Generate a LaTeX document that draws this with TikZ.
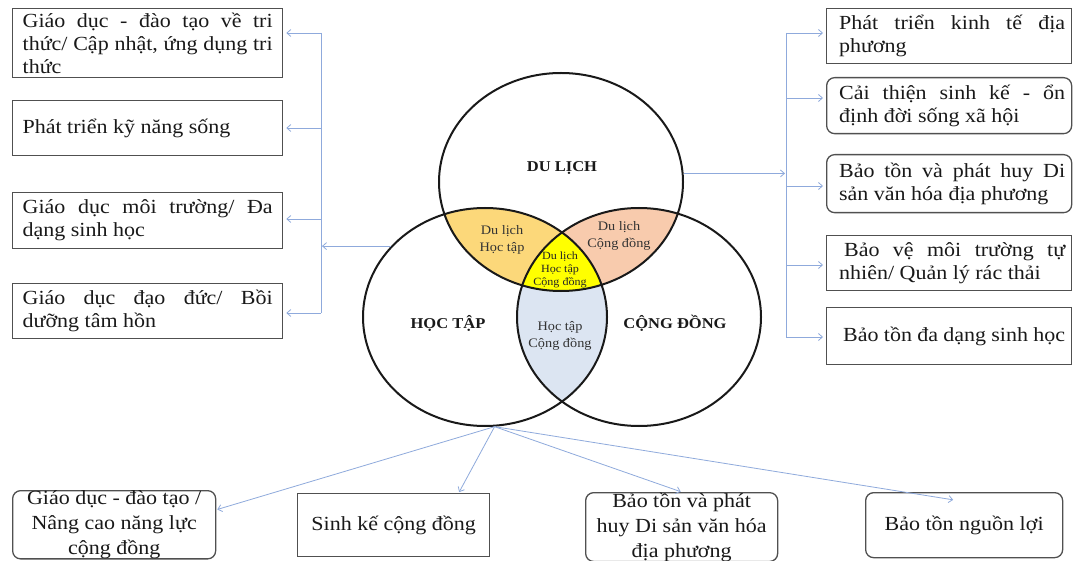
\documentclass[tikz,border=0pt]{standalone}
\usepackage{fontspec}
\setmainfont{Liberation Serif}[FakeStretch=1.1]
\usetikzlibrary{arrows.meta,shapes.geometric}
\definecolor{conncol}{HTML}{8FAADC}
\definecolor{boxgray}{HTML}{505050}
\definecolor{goldfill}{HTML}{FCD87A}
\definecolor{peachfill}{HTML}{F8CBAD}
\definecolor{palebluefill}{HTML}{DCE5F2}
\definecolor{centerfill}{HTML}{FFFF00}
\newcommand\jline[2]{\makebox[#1][s]{#2}}
\tikzset{
  box/.style={draw=boxgray, line width=1.3pt, inner sep=0pt, anchor=north west, text=black!90,
    font=\fontsize{20}{23}\selectfont},
  rbox/.style={box, rounded corners=8pt},
  bbox/.style={box, align=center, font=\fontsize{20}{25}\selectfont},
  link/.style={draw=conncol, line width=0.8pt},
  arr/.style={link, -{Straight Barb[length=4pt,width=7pt]}, shorten >=3pt},
  venn/.style={ellipse, draw=black!90, line width=2pt, minimum width=244pt, minimum height=218pt, inner sep=0pt},
  bigl/.style={font=\fontsize{15}{18}\selectfont\bfseries, text=black!90},
  smalll/.style={font=\fontsize{13}{17}\selectfont, align=center, text=black!80},
  tinyl/.style={font=\fontsize{11}{13}\selectfont, align=center, text=black!85},
}
\begin{document}
\begin{tikzpicture}[x=1pt,y=-1pt]
\useasboundingbox (0,0) rectangle (1073,561);
\fill[white] (0,0) rectangle (1073,561);

% ---- Venn fills ----
\begin{scope}
  \clip (561,182) ellipse [x radius=122pt, y radius=109pt];
  \fill[goldfill] (485,317) ellipse [x radius=122pt, y radius=109pt];
  \fill[peachfill] (639,317) ellipse [x radius=122pt, y radius=109pt];
\end{scope}
\begin{scope}
  \clip (485,317) ellipse [x radius=122pt, y radius=109pt];
  \fill[palebluefill] (639,317) ellipse [x radius=122pt, y radius=109pt];
\end{scope}
\begin{scope}
  \clip (561,182) ellipse [x radius=122pt, y radius=109pt];
  \clip (485,317) ellipse [x radius=122pt, y radius=109pt];
  \fill[centerfill] (639,317) ellipse [x radius=122pt, y radius=109pt];
\end{scope}

% ---- Venn outlines ----
\node[venn] (dl) at (561,182) {};
\node[venn] (ht) at (485,317) {};
\node[venn] (cd) at (639,317) {};

\node[bigl] (dltxt) at (562,168) {DU LỊCH};
\node[bigl] (httxt) at (448,323) {HỌC TẬP};
\node[bigl] (cdtxt) at (675,323) {CỘNG ĐỒNG};
\node[smalll] (dlht) at (502,240) {Du lịch\\Học tập};
\node[smalll] (dlcd) at (619,236) {Du lịch\\Cộng đồng};
\node[tinyl] (all) at (560,270) {Du lịch\\Học tập\\Cộng đồng};
\node[smalll] (htcd) at (560,336) {Học tập\\Cộng đồng};

% ---- Left boxes ----
\node[box, minimum width=270pt, minimum height=69pt] (l1) at (12,8)
  {\parbox{250pt}{\jline{250pt}{Giáo dục - đào tạo về tri}\\\jline{250pt}{thức/ Cập nhật, ứng dụng tri}\\thức}};
\node[box, minimum width=270pt, minimum height=55pt] (l2) at (12,100)
  {\parbox{250pt}{Phát triển kỹ năng sống}};
\node[box, minimum width=270pt, minimum height=56pt] (l3) at (12,192)
  {\parbox{250pt}{\jline{250pt}{Giáo dục môi trường/ Đa}\\dạng sinh học}};
\node[box, minimum width=270pt, minimum height=55pt] (l4) at (12,283)
  {\parbox{250pt}{\jline{250pt}{Giáo dục đạo đức/ Bồi}\\dưỡng tâm hồn}};

% ---- Right boxes ----
\node[box, minimum width=245pt, minimum height=55pt] (r1) at (826,8)
  {\hspace*{6pt}\parbox{226pt}{\jline{226pt}{Phát triển kinh tế địa}\\phương}};
\node[rbox, minimum width=245pt, minimum height=56pt] (r2) at (826,77)
  {\hspace*{6pt}\parbox{226pt}{\jline{226pt}{Cải thiện sinh kế - ổn}\\định đời sống xã hội}};
\node[rbox, minimum width=245pt, minimum height=58pt] (r3) at (826,154)
  {\hspace*{6pt}\parbox{226pt}{\jline{226pt}{Bảo tồn và phát huy Di}\\sản văn hóa địa phương}};
\node[box, minimum width=245pt, minimum height=55pt] (r4) at (826,235)
  {\hspace*{6pt}\parbox{226pt}{\jline{226pt}{\hspace{5pt}Bảo vệ môi trường tự}\\nhiên/ Quản lý rác thải}};
\node[box, minimum width=245pt, minimum height=57pt] (r5) at (826,307)
  {\hspace*{6pt}\parbox{226pt}{\hspace{4pt}Bảo tồn đa dạng sinh học}};

% ---- Bottom boxes ----
\node[bbox, rounded corners=8pt, minimum width=203pt, minimum height=67pt] (b1) at (12,490)
  {Giáo dục - đào tạo /\\Nâng cao năng lực\\cộng đồng};
\node[bbox, minimum width=192pt, minimum height=63pt] (b2) at (297,493)
  {Sinh kế cộng đồng};
\node[bbox, rounded corners=8pt, minimum width=192pt, minimum height=67pt] (b3) at (585,492)
  {Bảo tồn và phát\\huy Di sản văn hóa\\địa phương};
\node[bbox, rounded corners=8pt, minimum width=197pt, minimum height=65pt] (b4) at (865,492)
  {Bảo tồn nguồn lợi};

% ---- Left connectors ----
\coordinate (lt) at (321,33);
\coordinate (lq2) at (321,128);
\coordinate (lq3) at (321,219);
\coordinate (lb) at (321,313);
\draw[link] (lt) -- (lb);
\draw[arr] (lt) -- (lt -| l1.east);
\draw[arr] (lq2) -- (lq2 -| l2.east);
\draw[arr] (lq3) -- (lq3 -| l3.east);
\draw[arr] (lb) -- (lb -| l4.east);
\draw[arr, shorten >=1pt] (ht.143) -- (ht.143 -| lt);

% ---- Right connectors ----
\coordinate (rt) at (786,33);
\coordinate (rq2) at (786,98);
\coordinate (rq3) at (786,186);
\coordinate (rq4) at (786,265);
\coordinate (rb) at (786,337);
\draw[link] (rt) -- (rb);
\draw[arr] (rt) -- (rt -| r1.west);
\draw[arr] (rq2) -- (rq2 -| r2.west);
\draw[arr] (rq3) -- (rq3 -| r3.west);
\draw[arr] (rq4) -- (rq4 -| r4.west);
\draw[arr] (rb) -- (rb -| r5.west);
\draw[arr, shorten >=1pt] (dl.4) -- (dl.4 -| rt);

% ---- Bottom connectors ----
\coordinate (bsrc) at (ht.275);
\draw[arr, shorten >=1pt] (bsrc) -- ([yshift=15pt]b1.east);
\draw[arr, shorten >=1pt] (bsrc) -- ([xshift=65pt]b2.north);
\draw[arr, shorten >=1pt] (bsrc) -- (b3.north);
\draw[arr, shorten >=1pt] (bsrc) -- ([xshift=-10pt,yshift=-8pt]b4.north);
\end{tikzpicture}
\end{document}
